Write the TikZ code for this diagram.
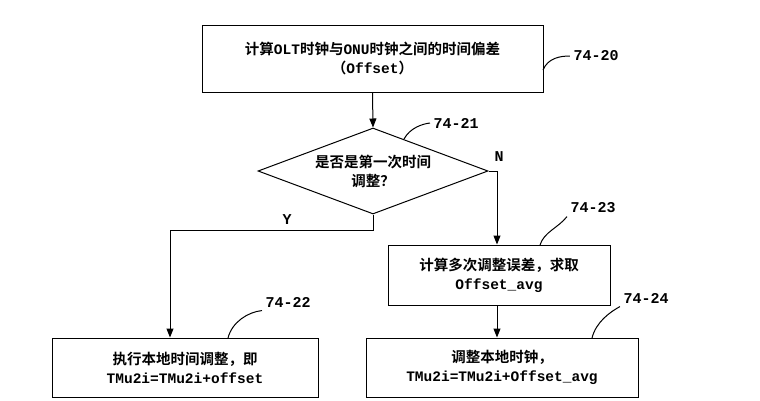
\documentclass[tikz,border=0pt]{standalone}
\usepackage{fontspec}
\setmainfont{Noto Sans CJK SC}[BoldFont={* Bold}]
\newfontfamily\monob{Liberation Mono}[BoldFont={* Bold}]
\usetikzlibrary{shapes.geometric,arrows.meta}
\begin{document}
\begin{tikzpicture}[x=1pt,y=-1pt,
  box/.style={draw,line width=1pt,inner sep=0pt,align=center,font=\bfseries\fontsize{14.5}{19}\selectfont},
  arr/.style={line width=1pt,-{Triangle[length=9pt,width=7pt]}},
  lbl/.style={font=\monob\bfseries\fontsize{15}{17}\selectfont},
  lead/.style={line width=1pt}]
\useasboundingbox (0,0) rectangle (760,400);
\node[box,minimum width=341pt,minimum height=67pt] (b1) at (372.5,58.5) {计算{\monob OLT}时钟与{\monob ONU}时钟之间的时间偏差\\（{\monob Offset}）};
\node[box,diamond,aspect=2.6,minimum width=230pt,minimum height=86pt,inner sep=-4pt] (d) at (373,171) {是否是第一次时间\\调整？};
\node[box,minimum width=222pt,minimum height=60pt] (b2) at (499,275) {计算多次调整误差，求取\\{\monob Offset\_avg}};
\node[box,minimum width=266pt,minimum height=59pt] (b3) at (185,367.5) {执行本地时间调整，即\\{\monob TMu2i=TMu2i+offset}};
\node[box,minimum width=272pt,minimum height=59pt] (b4) at (502,367.5) {调整本地时钟，\\{\monob TMu2i=TMu2i+Offset\_avg}};
\draw[arr] (b1.south) -- (d.north);
\coordinate (y1) at (373,230);
\coordinate (y2) at (170,230);
\draw[arr] (d.south) -- (y1) -- (y2) -- (y2 |- b3.north);
\coordinate (n1) at (497,171);
\draw[arr] (d.east) -- (n1) -- (n1 |- b2.north);
\draw[arr] (n1 |- b2.south) -- (n1 |- b4.north);
\node[lbl] (ly) at (287,220) {Y};
\node[lbl] (ln) at (499,157) {N};
\node[lbl] (l20) at (596,56) {74-20};
\node[lbl] (l21) at (456,123) {74-21};
\node[lbl] (l23) at (593,208) {74-23};
\node[lbl] (l22) at (288,302) {74-22};
\node[lbl] (l24) at (646,298) {74-24};
\draw[lead] (543,70) .. controls (548,58) and (560,56) .. (l20.west);
\draw[lead] (404,139) .. controls (410,128) and (422,124) .. (l21.west);
\draw[lead] (540,245) .. controls (544,232) and (558,228) .. (l23.south west);
\draw[lead] (228,338) .. controls (232,322) and (248,312) .. (l22.south west);
\draw[lead] (592,338) .. controls (596,322) and (610,312) .. (l24.south west);
\end{tikzpicture}
\end{document}
